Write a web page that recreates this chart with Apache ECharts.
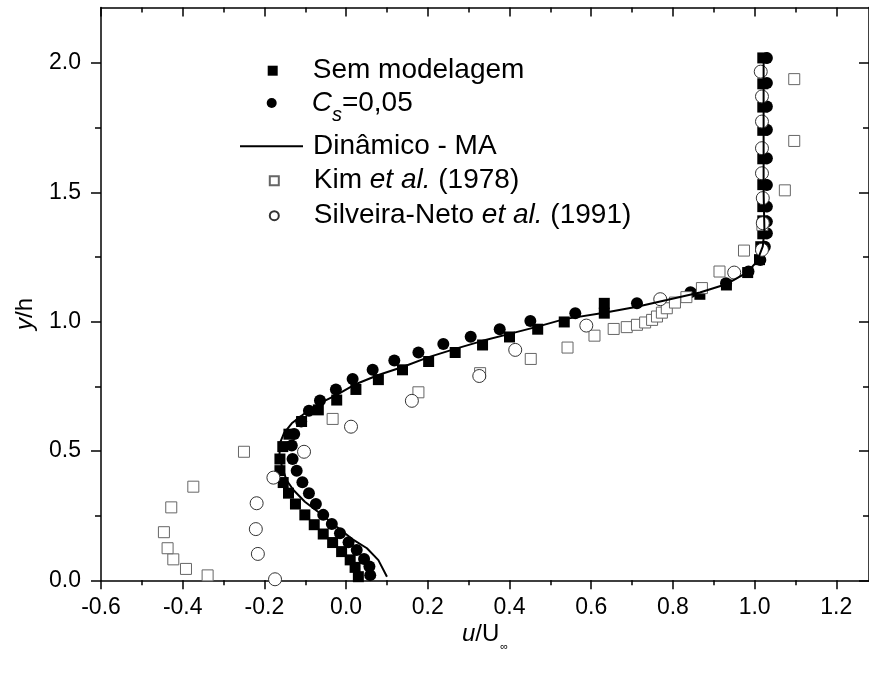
<!DOCTYPE html>
<html>
<head>
<meta charset="utf-8">
<script src="https://cdn.jsdelivr.net/npm/echarts@6/dist/echarts.min.js"></script>
<style>
html, body { margin: 0; padding: 0; background: #fff; }
#main { width: 869px; height: 673px; }
</style>
</head>
<body>
<div id="main"></div>
<script>
// tick values
var xTicks = [-0.6, -0.4, -0.2, 0.0, 0.2, 0.4, 0.6, 0.8, 1.0, 1.2];
var xMinorTicks = [-0.5, -0.3, -0.1, 0.1, 0.3, 0.5, 0.7, 0.9, 1.1];
var yTicks = [0.0, 0.5, 1.0, 1.5, 2.0];
var yMinorTicks = [0.25, 0.75, 1.25, 1.75];

// [u/Uinf, y/h]
var semModelagem = [
    [0.030, 0.014], [0.022, 0.050], [0.010, 0.079], [-0.011, 0.111], [-0.033, 0.146],
    [-0.056, 0.179], [-0.078, 0.215], [-0.101, 0.253], [-0.124, 0.295], [-0.141, 0.337],
    [-0.154, 0.378], [-0.162, 0.424], [-0.162, 0.469], [-0.155, 0.517], [-0.140, 0.565],
    [-0.109, 0.614], [-0.068, 0.659], [-0.023, 0.697], [0.024, 0.738], [0.079, 0.776],
    [0.138, 0.814], [0.202, 0.846], [0.267, 0.881], [0.334, 0.910], [0.400, 0.941],
    [0.469, 0.971], [0.534, 0.999], [0.632, 1.033], [0.632, 1.071], [0.866, 1.106],
    [0.931, 1.142], [0.983, 1.190], [1.012, 1.240], [1.015, 1.290], [1.020, 1.340],
    [1.020, 1.390], [1.020, 1.445], [1.020, 1.530], [1.020, 1.630], [1.020, 1.740],
    [1.020, 1.830], [1.020, 1.920], [1.020, 2.020]
];
var cs005 = [
    [0.059, 0.020], [0.057, 0.053], [0.044, 0.082], [0.026, 0.117], [0.006, 0.147],
    [-0.015, 0.182], [-0.035, 0.218], [-0.056, 0.253], [-0.074, 0.295], [-0.091, 0.337],
    [-0.107, 0.379], [-0.121, 0.424], [-0.131, 0.469], [-0.133, 0.521], [-0.127, 0.566],
    [-0.110, 0.614], [-0.091, 0.656], [-0.064, 0.695], [-0.025, 0.738], [0.016, 0.778],
    [0.065, 0.814], [0.118, 0.850], [0.177, 0.881], [0.238, 0.914], [0.305, 0.942],
    [0.376, 0.971], [0.451, 1.003], [0.561, 1.033], [0.712, 1.071], [0.843, 1.114],
    [0.930, 1.149], [0.985, 1.194], [1.014, 1.239], [1.025, 1.290], [1.030, 1.342],
    [1.030, 1.387], [1.030, 1.445], [1.030, 1.529], [1.030, 1.632], [1.030, 1.742],
    [1.030, 1.832], [1.030, 1.923], [1.030, 2.020]
];
var dinamico = [
    [0.100, 0.014], [0.079, 0.078], [0.051, 0.124], [0.018, 0.156], [-0.023, 0.207],
    [-0.064, 0.259], [-0.101, 0.304], [-0.129, 0.349], [-0.146, 0.388], [-0.157, 0.440],
    [-0.163, 0.485], [-0.162, 0.530], [-0.152, 0.569], [-0.133, 0.607], [-0.101, 0.646],
    [-0.064, 0.685], [-0.023, 0.717], [0.020, 0.756], [0.079, 0.794], [0.140, 0.826],
    [0.202, 0.863], [0.267, 0.895], [0.334, 0.926], [0.400, 0.953], [0.469, 0.981],
    [0.534, 1.010], [0.632, 1.035], [0.712, 1.058], [0.785, 1.084], [0.866, 1.113],
    [0.932, 1.146], [0.981, 1.190], [1.006, 1.233], [1.020, 1.291], [1.024, 1.355],
    [1.022, 1.500], [1.022, 2.020]
];
var kim1978 = [
    [-0.339, 0.019], [-0.392, 0.044], [-0.423, 0.081], [-0.437, 0.124], [-0.446, 0.186],
    [-0.428, 0.282], [-0.374, 0.362], [-0.250, 0.497], [-0.033, 0.624], [0.177, 0.727],
    [0.328, 0.801], [0.452, 0.856], [0.542, 0.900], [0.608, 0.946], [0.655, 0.972],
    [0.687, 0.979], [0.712, 0.988], [0.732, 0.997], [0.749, 1.007], [0.761, 1.020],
    [0.773, 1.035], [0.785, 1.052], [0.805, 1.074], [0.833, 1.095], [0.871, 1.130],
    [0.914, 1.194], [0.974, 1.275], [1.019, 1.374], [1.074, 1.508], [1.097, 1.699],
    [1.097, 1.938]
];
var silveiraNeto1991 = [
    [-0.174, 0.004], [-0.216, 0.102], [-0.221, 0.198], [-0.219, 0.298], [-0.178, 0.397],
    [-0.103, 0.497], [0.012, 0.594], [0.161, 0.694], [0.326, 0.790], [0.414, 0.891],
    [0.588, 0.985], [0.769, 1.087], [0.950, 1.190], [1.018, 1.278], [1.020, 1.381],
    [1.020, 1.478], [1.018, 1.574], [1.018, 1.671], [1.018, 1.774], [1.018, 1.871],
    [1.015, 1.967]
];

var FONT = "'Liberation Sans', Arial, sans-serif";
var X_MIN = -0.6, X_MAX = 1.28, Y_MIN = 0, Y_MAX = 2.215;

var dom = document.getElementById('main');
var myChart = echarts.init(dom);

function txt(size, italic) {
    return { fontFamily: FONT, fontSize: size, fontStyle: italic ? 'italic' : 'normal', color: '#000', lineHeight: 30, verticalAlign: 'middle' };
}

function legendRow(name, left, top, w, h, text, extraRich, icon) {
    var rich = {
        sp: { width: 30 },
        n: txt(28, false),
        i: txt(28, true)
    };
    for (var k in extraRich) rich[k] = extraRich[k];
    return {
        data: [icon ? { name: name, icon: icon } : name],
        left: left, top: top,
        padding: 0,
        itemWidth: w, itemHeight: h,
        selectedMode: false,
        formatter: function () { return text; },
        textStyle: { rich: rich }
    };
}

function xAxisOf(grid, pos, major) {
    return {
        type: 'value', gridIndex: grid, position: pos, min: X_MIN, max: X_MAX,
        axisLine: { show: major, onZero: false, lineStyle: { color: '#000', width: 1.5 } },
        axisTick: {
            show: true, inside: pos === 'top', length: major ? 9 : 5,
            customValues: major ? xTicks : xMinorTicks,
            lineStyle: { color: '#000', width: 1.5 }
        },
        axisLabel: {
            show: major && pos === 'bottom', customValues: xTicks, margin: 16,
            fontFamily: FONT, fontSize: 23, color: '#000',
            formatter: function (v) { return v.toFixed(1); }
        },
        splitLine: { show: false }
    };
}

function yAxisOf(grid, pos, major) {
    return {
        type: 'value', gridIndex: grid, position: pos, min: Y_MIN, max: Y_MAX,
        axisLine: { show: major, onZero: false, lineStyle: { color: '#000', width: 1.5 } },
        axisTick: {
            show: true, inside: pos === 'right', length: major ? 10 : 6,
            customValues: major ? yTicks : yMinorTicks,
            lineStyle: { color: '#000', width: 1.5 }
        },
        axisLabel: {
            show: major && pos === 'left', customValues: yTicks, margin: 20,
            fontFamily: FONT, fontSize: 23, color: '#000',
            formatter: function (v) { return v.toFixed(1); }
        },
        splitLine: { show: false }
    };
}

var xAxes = [xAxisOf(0, 'bottom', true), xAxisOf(0, 'top', true), xAxisOf(1, 'bottom', false), xAxisOf(1, 'top', false)];
var yAxes = [yAxisOf(0, 'left', true), yAxisOf(0, 'right', true), yAxisOf(1, 'left', false), yAxisOf(1, 'right', false)];

xAxes[0].name = '{i|u}{n|/U}{s|∞}';
xAxes[0].nameLocation = 'middle';
xAxes[0].nameGap = 40;
xAxes[0].nameMoveOverlap = false;
xAxes[0].nameTextStyle = {
    rich: {
        i: { fontFamily: FONT, fontSize: 24, fontStyle: 'italic', color: '#000', lineHeight: 28, verticalAlign: 'middle' },
        n: { fontFamily: FONT, fontSize: 24, color: '#000', lineHeight: 28, verticalAlign: 'middle' },
        s: { fontFamily: FONT, fontSize: 11, color: '#000', lineHeight: 11, padding: [26, 0, 0, 1], verticalAlign: 'middle' }
    }
};
yAxes[0].name = '{i|y}{n|/h}';
yAxes[0].nameLocation = 'middle';
yAxes[0].nameGap = 62;
yAxes[0].nameMoveOverlap = false;
yAxes[0].nameTextStyle = {
    padding: [0, 40, 0, 0],
    rich: {
        i: { fontFamily: FONT, fontSize: 24, fontStyle: 'italic', color: '#000', lineHeight: 28 },
        n: { fontFamily: FONT, fontSize: 24, color: '#000', lineHeight: 28 }
    }
};

var option = {
    animation: false,
    backgroundColor: '#fff',
    grid: [
        { left: 101, right: 0, top: 7.5, bottom: 92.7 },
        { left: 101, right: 0, top: 7.5, bottom: 92.7 }
    ],
    xAxis: xAxes,
    yAxis: yAxes,
    legend: [
        legendRow('Sem modelagem', 267.7, 56.7, 10, 10, '{sp| }{n|Sem modelagem}', {}),
        legendRow('Cs', 266.7, 81, 10, 10, '{sp| }{i|C}{s|s}{n|=0,05}', {
            s: { fontFamily: FONT, fontSize: 20, fontStyle: 'italic', color: '#000', lineHeight: 20, padding: [24, 0, 0, 0], verticalAlign: 'middle' }
        }),
        legendRow('Dinâmico - MA', 240, 132.3, 63, 2, '{sp| }{n|Dinâmico - MA}', { sp: { width: 5 } }, 'rect'),
        legendRow('Kim', 268.8, 166.7, 9, 9, '{sp| }{n|Kim }{i|et al.}{n| (1978)}', {}),
        legendRow('Silveira', 268.8, 201.7, 9, 9, '{sp| }{n|Silveira-Neto }{i|et al.}{n| (1991)}', {})
    ],
    series: [
        {
            name: 'Sem modelagem', type: 'scatter', xAxisIndex: 0, yAxisIndex: 0,
            symbol: 'rect', symbolSize: 11, itemStyle: { color: '#000', opacity: 1 }, data: semModelagem
        },
        {
            name: 'Cs', type: 'scatter', xAxisIndex: 0, yAxisIndex: 0,
            symbol: 'circle', symbolSize: 12, itemStyle: { color: '#000', opacity: 1 }, data: cs005
        },
        {
            name: 'Dinâmico - MA', type: 'line', xAxisIndex: 0, yAxisIndex: 0,
            symbol: 'none', showSymbol: false, color: '#000',
            itemStyle: { color: '#000' },
            lineStyle: { color: '#000', width: 2 }, data: dinamico
        },
        {
            name: 'Kim', type: 'scatter', xAxisIndex: 0, yAxisIndex: 0,
            symbol: 'rect', symbolSize: 11,
            itemStyle: { color: '#fff', borderColor: '#666', borderWidth: 1, opacity: 1 }, data: kim1978
        },
        {
            name: 'Silveira', type: 'scatter', xAxisIndex: 0, yAxisIndex: 0,
            symbol: 'circle', symbolSize: 13,
            itemStyle: { color: '#fff', borderColor: '#333', borderWidth: 1, opacity: 1 }, data: silveiraNeto1991
        }
    ]
};

myChart.setOption(option);
</script>
</body>
</html>
